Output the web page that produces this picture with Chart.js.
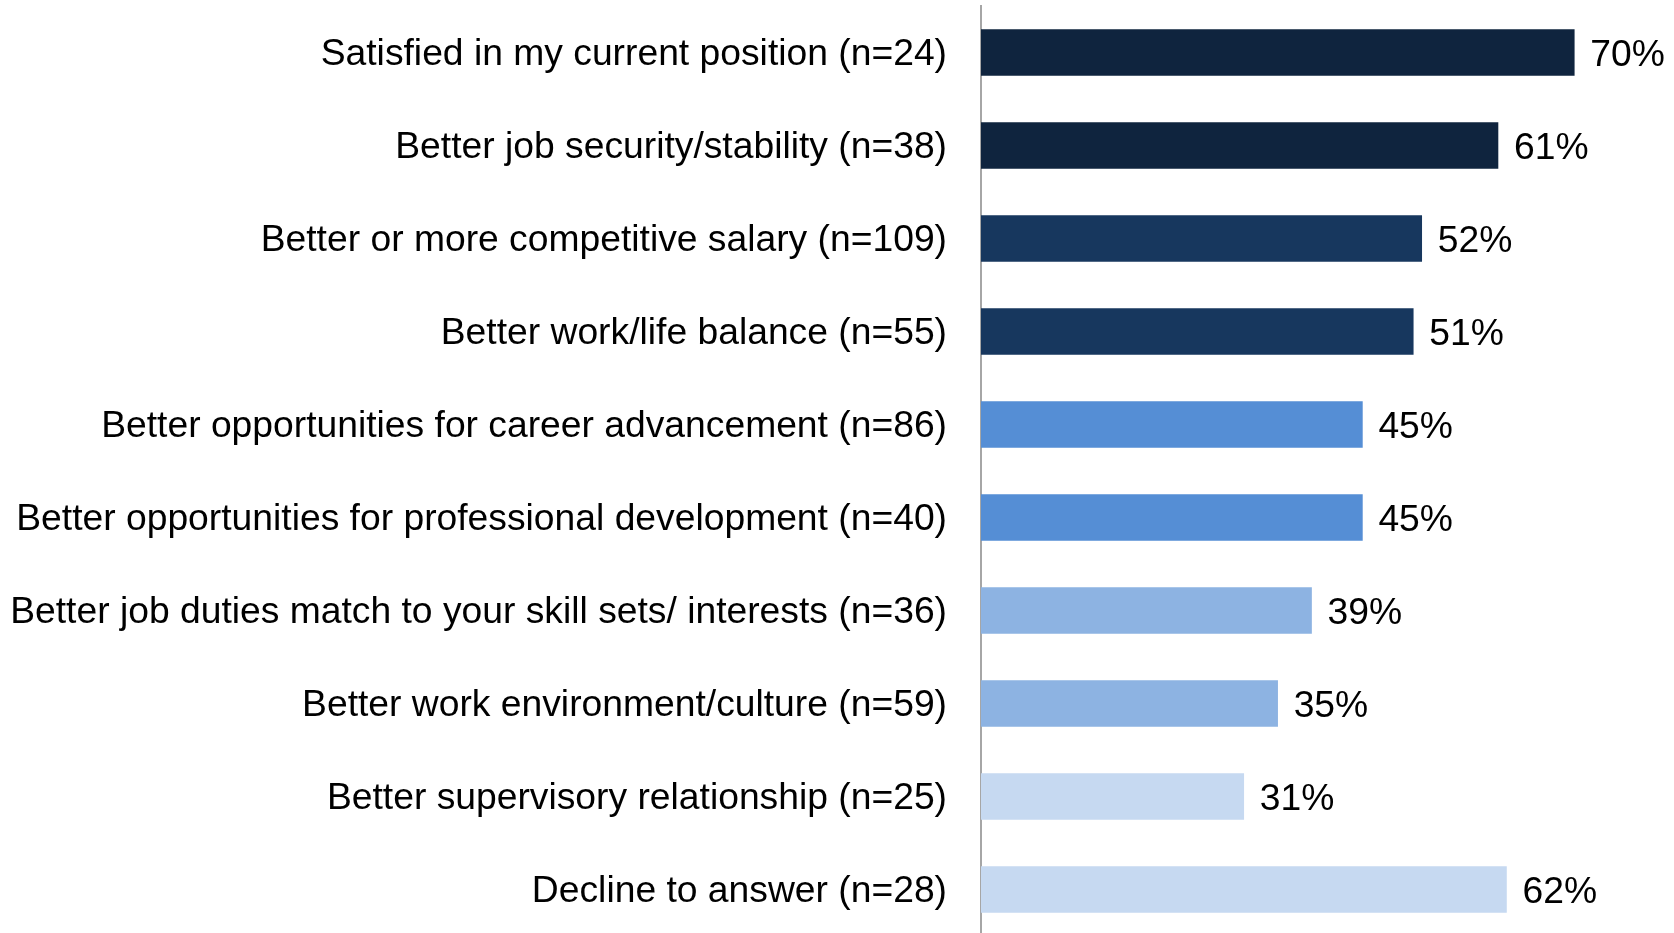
<!DOCTYPE html>
<html>
<head>
<meta charset="utf-8">
<script src="https://cdn.jsdelivr.net/npm/chart.js@4/dist/chart.umd.min.js"></script>
<style>
  html, body { margin: 0; padding: 0; background: #fff; overflow: hidden; }
  #wrap { position: relative; width: 1674px; height: 940px; }
</style>
</head>
<body>
<div id="wrap"><canvas id="chart"></canvas></div>
<script>
// Reasons for staying, share of respondents per group
const categories = [
  "Satisfied in my current position (n=24)",
  "Better job security/stability (n=38)",
  "Better or more competitive salary (n=109)",
  "Better work/life balance (n=55)",
  "Better opportunities for career advancement (n=86)",
  "Better opportunities for professional development (n=40)",
  "Better job duties match to your skill sets/ interests (n=36)",
  "Better work environment/culture (n=59)",
  "Better supervisory relationship (n=25)",
  "Decline to answer (n=28)",
];
const percents = [70, 61, 52, 51, 45, 45, 39, 35, 31, 62];
const barColors = [
  "#0F243E", "#0F243E",
  "#17375E", "#17375E",
  "#558ED5", "#558ED5",
  "#8DB3E2", "#8DB3E2",
  "#C6D9F1", "#C6D9F1",
];

const FONT = "'Liberation Sans', Arial, sans-serif";
const FONT_SIZE = 37.25;

// value labels to the right of each bar
const valueLabels = {
  id: "valueLabels",
  afterDatasetsDraw(chart) {
    const ctx = chart.ctx;
    const meta = chart.getDatasetMeta(0);
    ctx.save();
    ctx.font = `${FONT_SIZE}px ${FONT}`;
    ctx.fillStyle = "#000";
    ctx.textAlign = "left";
    ctx.textBaseline = "middle";
    meta.data.forEach((bar, i) => {
      ctx.fillText(`${percents[i]}%`, bar.x + 16, bar.y + 3);
    });
    ctx.restore();
  },
};

new Chart(document.getElementById("chart"), {
  type: "bar",
  data: {
    labels: categories,
    datasets: [
      {
        data: percents,
        backgroundColor: barColors,
        barThickness: 46,
      },
    ],
  },
  options: {
    indexAxis: "y",
    responsive: true,
    maintainAspectRatio: false,
    animation: false,
    layout: { padding: { top: 6, right: 15, bottom: 4, left: 0 } },
    plugins: {
      legend: { display: false },
      tooltip: { enabled: false },
    },
    scales: {
      x: {
        display: false,
        min: 0,
        max: 80,
      },
      y: {
        afterFit(scale) {
          // fixed axis position, no extra room above/below for labels
          scale.width = 981;
          scale.paddingTop = 0;
          scale.paddingBottom = 0;
        },
        grid: { display: false, drawTicks: false },
        border: { display: true, color: "#A6A6A6", width: 2 },
        ticks: {
          padding: 34,
          labelOffset: 2,
          color: "#000",
          font: { family: FONT, size: FONT_SIZE },
        },
      },
    },
  },
  plugins: [valueLabels],
});
</script>
</body>
</html>
